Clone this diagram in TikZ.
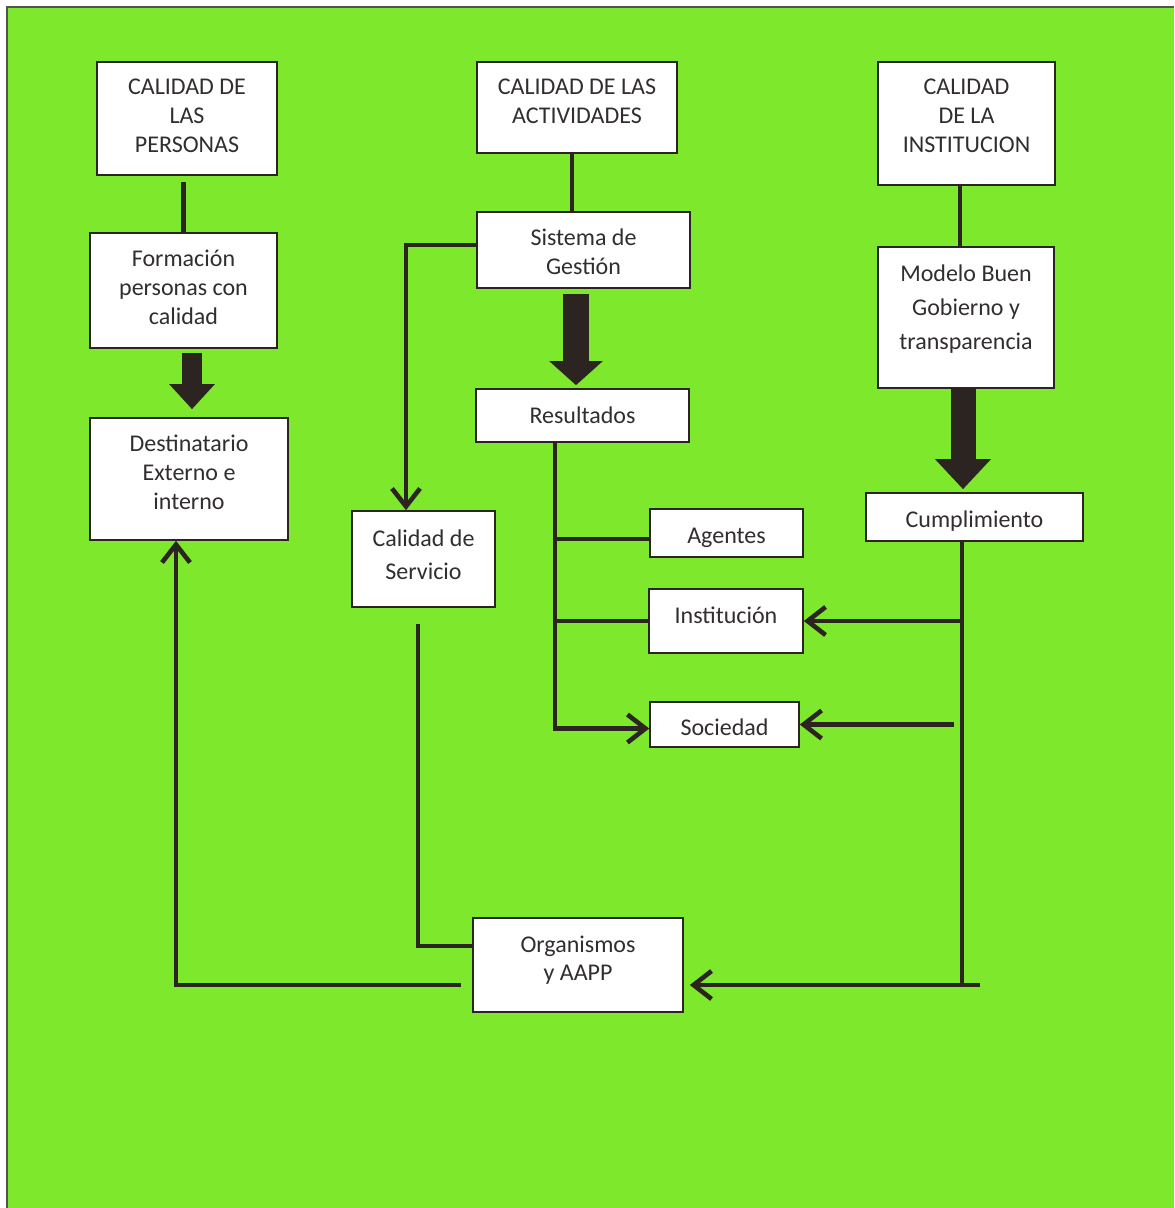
\documentclass[tikz,border=0pt]{standalone}
\usepackage{fontspec}
\setmainfont{Carlito}
\usetikzlibrary{arrows.meta,calc}
\definecolor{bggreen}{RGB}{126,232,44}
\definecolor{ink}{RGB}{44,36,33}
\definecolor{txt}{RGB}{50,46,46}
\begin{document}
\begin{tikzpicture}[x=0.5pt,y=-0.5pt,
  box/.style={draw=ink, line width=0.8pt, fill=white, inner sep=0pt},
  lbl/.style={align=center, text=txt, font=\fontsize{12}{14.5}\selectfont, inner sep=0pt},
  conn/.style={draw=ink, line width=2.3pt},
  arr/.style={conn, -{Straight Barb[length=9pt,width=14pt]}},
  blk/.style={draw=ink, line width=#1}]
\useasboundingbox (0,0) rectangle (1174,1208);
\fill[white] (0,0) rectangle (1174,1208);
\fill[bggreen] (7,7) rectangle (1174,1208);
\draw[ink!80, line width=1pt] (7,1208) -- (7,7) -- (1174,7);

% boxes
\node[box, minimum width=90pt,  minimum height=56.5pt] (pers) at (187,118.5) {};
\node[box, minimum width=100pt, minimum height=45.5pt] (act)  at (577,107.5) {};
\node[box, minimum width=88.5pt,minimum height=61.5pt] (inst) at (966.5,123.5) {};
\node[box, minimum width=93.5pt,minimum height=57.5pt] (form) at (183.5,290.5) {};
\node[box, minimum width=99pt,  minimum height=61pt]   (dest) at (189,479) {};
\node[box, minimum width=106.5pt,minimum height=38pt]  (sis)  at (583.5,250) {};
\node[box, minimum width=106.5pt,minimum height=26.5pt](res)  at (582.5,415.5) {};
\node[box, minimum width=88pt,  minimum height=70.5pt] (mod)  at (966,317.5) {};
\node[box, minimum width=108.5pt,minimum height=24pt]  (cum)  at (974.5,517) {};
\node[box, minimum width=71.5pt,minimum height=48pt]   (cser) at (423.5,559) {};
\node[box, minimum width=76.5pt,minimum height=24pt]   (age)  at (726.5,533) {};
\node[box, minimum width=77pt,  minimum height=32pt]   (ins)  at (726,621) {};
\node[box, minimum width=74.5pt,minimum height=22.5pt] (soc)  at (724.5,724.5) {};
\node[box, minimum width=105pt, minimum height=47pt]   (org)  at (578,965) {};

% texts
\node[lbl] (perst) at ([yshift=1.5pt]pers.center) {CALIDAD DE\\LAS\\PERSONAS};
\node[lbl] (actt)  at ([yshift=3pt]act.center) {CALIDAD DE LAS\\ACTIVIDADES};
\node[lbl] (instt) at ([yshift=4pt]inst.center) {CALIDAD\\DE LA\\INSTITUCION};
\node[lbl] (formt) at ([yshift=1.5pt]form.center) {Formación\\personas con\\calidad};
\node[lbl] (destt) at ([yshift=3.5pt]dest.center) {Destinatario\\Externo e\\interno};
\node[lbl] (sist)  at ([yshift=-1pt]sis.center) {Sistema de\\Gestión};
\node[lbl] (rest)  at (res.center) {Resultados};
\node[lbl, font=\fontsize{12}{17}\selectfont] (modt) at ([yshift=4pt]mod.center) {Modelo Buen\\Gobierno y\\transparencia};
\node[lbl] (cumt)  at ([yshift=-2pt]cum.center) {Cumplimiento};
\node[lbl, font=\fontsize{12}{16.5}\selectfont] (csert) at ([yshift=2pt]cser.center) {Calidad de\\Servicio};
\node[lbl] (aget)  at ([yshift=-2.5pt]age.center) {Agentes};
\node[lbl] (inst2) at ([yshift=3pt]ins.center) {Institución};
\node[lbl] (soct)  at ([yshift=-1.5pt]soc.center) {Sociedad};
\node[lbl, font=\fontsize{12}{14}\selectfont] (orgt) at ([yshift=2.5pt]org.center) {Organismos\\y AAPP};

% helper coordinates
\coordinate (rb) at ([xshift=-13.75pt]res.south);
\coordinate (cb) at ([xshift=-6.25pt]cum.south);
\coordinate (oe) at ([yshift=-10pt]org.east);
\coordinate (ow) at ([yshift=-10pt]org.west);
\coordinate (ow2) at ([yshift=9.5pt]org.west);
\coordinate (cbend) at ($(cb |- oe)+(9pt,0)$);

% thin connectors
\draw[conn, shorten <=3pt] (form.north |- pers.south) -- (form.north);
\draw[conn] ([xshift=-2.5pt]act.south) -- ([xshift=-2.5pt]act.south |- sis.north);
\draw[conn] ([xshift=-3.25pt]inst.south) -- ([xshift=-3.25pt]inst.south |- mod.north);
\draw[arr] ([yshift=2.5pt]sis.west) -| ([xshift=-8.75pt]cser.north);
\draw[arr] (rb) |- ([yshift=-2pt]soc.west);
\draw[conn] (rb |- age.west) ++(0,6) -- ([yshift=-3pt]age.west);
\draw[conn] (rb |- ins.west) -- (ins.west);
\draw[conn] (cb) -- (cb |- oe);
\draw[arr, shorten >=3pt] (cbend) -- (oe);
\draw[arr] (cb |- ins.east) -- (ins.east);
\draw[arr] ([xshift=-4pt]cb |- soc.east) -- (soc.east);
\draw[conn, shorten <=8pt] ([xshift=-2.75pt]cser.south) |- (ow2);
\draw[arr, shorten <=5.5pt] (ow) -| ([xshift=-6.5pt]dest.south);

% block arrows
\draw[blk=10pt, shorten <=2pt, shorten >=4pt, -{Triangle[length=12.5pt,width=22pt]}]
  ([xshift=4.25pt]form.south) -- ([xshift=4.25pt]form.south |- dest.north);
\draw[blk=13pt, shorten <=2.5pt, shorten >=1.5pt, -{Triangle[length=12pt,width=26pt]}]
  ([xshift=-3.75pt]sis.south) -- ([xshift=-3.75pt]sis.south |- res.north);
\draw[blk=12.5pt, shorten >=1.5pt, -{Triangle[length=15pt,width=27pt]}]
  ([xshift=-1.5pt]mod.south) -- ([xshift=-1.5pt]mod.south |- cum.north);
\end{tikzpicture}
\end{document}
